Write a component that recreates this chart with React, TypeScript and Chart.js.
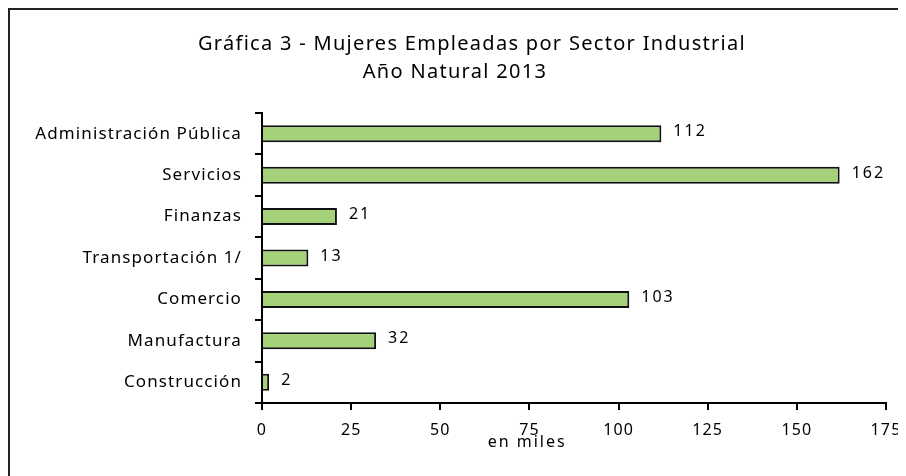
import React, { useEffect, useRef } from "react";
import { Chart, registerables } from "chart.js";

Chart.register(...registerables);

const categories = [
  "Administración Pública",
  "Servicios",
  "Finanzas",
  "Transportación 1/",
  "Comercio",
  "Manufactura",
  "Construcción",
];
const values = [112, 162, 21, 13, 103, 32, 2];
const xMin = 0;
const xMax = 175;
const xStep = 25;
const titleLines = ["Gráfica 3 - Mujeres Empleadas por Sector Industrial", "Año Natural 2013"];
const axisTitle = "en miles";

const FONT = "'Noto Sans', sans-serif";

const setSpacing = (ctx: any, px: number) => {
  if ("letterSpacing" in ctx) ctx.letterSpacing = `${px}px`;
};

const framePlugin = {
  id: "frame",
  beforeUpdate(chart: any) {
    setSpacing(chart.ctx, 1.1);
  },
  beforeDraw(chart: any) {
    const { ctx, width, height } = chart;
    setSpacing(ctx, 1.1);
    ctx.save();
    ctx.fillStyle = "#ffffff";
    ctx.fillRect(0, 0, width, height);
    ctx.strokeStyle = "#222222";
    ctx.lineWidth = 2;
    ctx.beginPath();
    ctx.moveTo(width, 1);
    ctx.lineTo(1, 1);
    ctx.lineTo(1, height);
    ctx.stroke();
    ctx.restore();
  },
};

const titlePlugin = {
  id: "customTitle",
  afterDraw(chart: any) {
    const { ctx, width } = chart;
    ctx.save();
    setSpacing(ctx, 1.3);
    ctx.font = `20px ${FONT}`;
    ctx.fillStyle = "#000000";
    ctx.textAlign = "center";
    ctx.textBaseline = "alphabetic";
    ctx.fillText(titleLines[0], width / 2 + 15, 42);
    ctx.fillText(titleLines[1], width / 2 - 2, 70);
    ctx.restore();
  },
};

const valueLabelPlugin = {
  id: "valueLabels",
  afterDatasetsDraw(chart: any) {
    const { ctx } = chart;
    const meta = chart.getDatasetMeta(0);
    ctx.save();
    setSpacing(ctx, 2);
    ctx.font = `16px ${FONT}`;
    ctx.fillStyle = "#000000";
    ctx.textAlign = "left";
    ctx.textBaseline = "middle";
    meta.data.forEach((bar: any, i: number) => {
      ctx.fillText(String(values[i]), bar.x + 12, bar.y - 2);
    });
    ctx.restore();
  },
};

const axisTitlePlugin = {
  id: "axisTitleCustom",
  afterDraw(chart: any) {
    const { ctx, chartArea } = chart;
    ctx.save();
    setSpacing(ctx, 2);
    ctx.font = `16px ${FONT}`;
    ctx.fillStyle = "#000000";
    ctx.textAlign = "center";
    ctx.textBaseline = "middle";
    const x = chartArea.left + (chartArea.right - chartArea.left) * 0.425;
    ctx.fillText(axisTitle, x, chartArea.bottom + 39);
    ctx.restore();
  },
};

export default function App() {
  const ref = useRef<HTMLCanvasElement | null>(null);

  useEffect(() => {
    if (!ref.current) return;
    const chart = new Chart(ref.current, {
      type: "bar",
      data: {
        labels: categories,
        datasets: [
          {
            data: values,
            backgroundColor: "#A5D17A",
            borderColor: "#111111",
            borderWidth: 2,
            barPercentage: 0.41,
            categoryPercentage: 1,
          },
        ],
      },
      options: {
        indexAxis: "y",
        responsive: false,
        animation: false,
        layout: { padding: { left: 0, right: 20, top: 105, bottom: 0 } },
        plugins: {
          legend: { display: false },
          tooltip: { enabled: false },
          title: { display: false },
        },
        scales: {
          x: {
            type: "linear",
            min: xMin,
            max: xMax,
            ticks: {
              stepSize: xStep,
              color: "#000000",
              font: { family: FONT, size: 16 },
              padding: 11,
              maxRotation: 0,
            },
            grid: {
              drawOnChartArea: false,
              drawTicks: true,
              tickLength: 7,
              color: "#000000",
              lineWidth: 2,
            },
            border: { display: true, color: "#000000", width: 2 },
            afterFit(scale: any) {
              scale.height = 73;
              scale.paddingRight = 0;
              scale.paddingLeft = 0;
            },
          },
          y: {
            type: "category",
            ticks: {
              color: "#000000",
              font: { family: FONT, size: 17 },
              padding: 13,
            },
            grid: {
              drawOnChartArea: false,
              drawTicks: true,
              tickLength: 7,
              offset: true,
              color: "#000000",
              lineWidth: 2,
            },
            border: { display: true, color: "#000000", width: 2 },
            afterFit(scale: any) {
              scale.width = 254;
            },
          },
        },
      },
      plugins: [framePlugin, valueLabelPlugin, axisTitlePlugin, titlePlugin],
    } as any);
    return () => chart.destroy();
  }, []);

  return <canvas ref={ref} width={898} height={468} style={{ display: "block" }} />;
}
